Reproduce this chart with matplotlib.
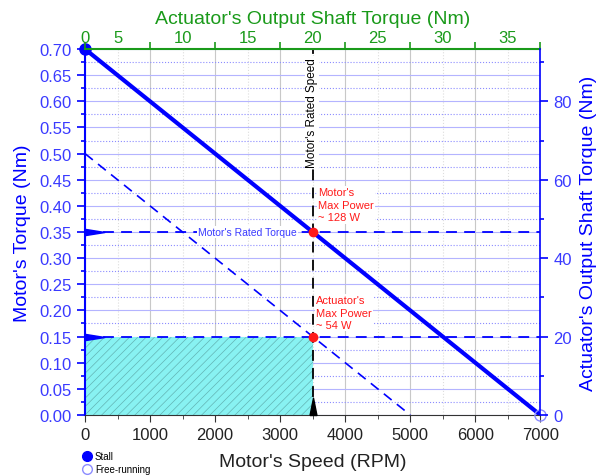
import matplotlib
matplotlib.use("Agg")
import matplotlib.pyplot as plt
from matplotlib.path import Path
from matplotlib.ticker import MultipleLocator
from matplotlib.lines import Line2D

# =====================================================
# DATA
# =====================================================

motor_speed = [0, 7000]          # RPM
motor_torque = [0.70, 0.00]      # Nm

actuator_speed = [0, 5000]
actuator_torque = [0.50, 0.00]

rated_speed = 3500
rated_torque = 0.35
actuator_rated_torque = 0.15

top_tick_pos = [0, 500, 1500, 2500, 3500, 4500, 5500, 6500]
top_tick_labels = ['0', '5', '10', '15', '20', '25', '30', '35']

right_ratio = 0.0075   # motor Nm per actuator Nm

BLUE = '#0000ff'
TXT_BLUE = '#3a3aff'
GREEN = '#1a9a1a'
RED = '#ff1a1a'

plt.rcParams['font.family'] = ['Liberation Sans', 'DejaVu Sans']
plt.rcParams['hatch.linewidth'] = 0.5

fig = plt.figure(figsize=(6.03, 4.77), dpi=100)
ax = fig.add_axes([0.141, 0.128, 0.755, 0.767])

# =====================================================
# GRID
# =====================================================

ax.set_xlim(0, 7000)
ax.set_ylim(0, 0.70)
ax.xaxis.set_major_locator(MultipleLocator(1000))
ax.xaxis.set_minor_locator(MultipleLocator(500))
ax.yaxis.set_major_locator(MultipleLocator(0.05))
ax.yaxis.set_minor_locator(MultipleLocator(0.025))

ax.grid(axis='x', which='major', color='#c8c8c8', lw=0.8)
ax.grid(axis='x', which='minor', color='#dddddd', lw=0.8, ls=':')
ax.grid(axis='y', which='major', color='#b4b4ff', lw=0.8)
ax.grid(axis='y', which='minor', color='#8c8cff', lw=0.8, ls=':')
ax.set_axisbelow(True)

# =====================================================
# FILL REGION
# =====================================================

ax.fill_between([0, rated_speed], 0, actuator_rated_torque,
                facecolor='#88f2f2', edgecolor='#62b4b4',
                hatch='////', lw=0, zorder=1.5)

# =====================================================
# LINES
# =====================================================

ax.plot(motor_speed, motor_torque, color=BLUE, lw=3, zorder=4)
ax.plot(actuator_speed, actuator_torque, color=BLUE, lw=1.2,
        ls=(0, (6, 4)), zorder=3)

ax.axhline(rated_torque, color=BLUE, lw=1.3, ls=(0, (6, 4)), zorder=3)
ax.axhline(actuator_rated_torque, color=BLUE, lw=1.3, ls=(0, (6, 4)), zorder=3)
ax.axvline(rated_speed, color='black', lw=1.3, ls=(0, (6, 4)), zorder=3)

# stall / free-running markers
ax.plot([motor_speed[0]], [motor_torque[0]], 'o', color=BLUE, ms=8,
        clip_on=False, zorder=6)
ax.plot([motor_speed[1]], [motor_torque[1]], 'o', mfc='none',
        mec='#8c8cff', ms=8, clip_on=False, zorder=6)

# max power points
ax.plot([rated_speed, rated_speed], [rated_torque, actuator_rated_torque],
        'o', color=RED, ms=6, zorder=7)

# axis pointer triangles
right_tri = Path([(0, -0.4), (2.5, 0), (0, 0.4), (0, -0.4)])
up_tri = Path([(-0.2, 0), (0, 1), (0.2, 0), (-0.2, 0)])
ax.plot([0, 0], [rated_torque, actuator_rated_torque], ls='none',
        marker=right_tri, ms=28, color=BLUE, clip_on=False, zorder=6)
ax.plot([rated_speed], [0], ls='none', marker=up_tri, ms=25,
        color='black', clip_on=False, zorder=6)

# =====================================================
# TEXT ANNOTATIONS
# =====================================================

ax.text(2500, rated_torque, "Motor's Rated Torque", color=TXT_BLUE,
        fontsize=7.5, ha='center', va='center', zorder=5,
        bbox=dict(facecolor='white', edgecolor='none', pad=1))
ax.text(rated_speed - 10, 0.58, "Motor's Rated Speed", color='black',
        fontsize=8.5, rotation=90, ha='center', va='center', zorder=5,
        bbox=dict(facecolor='white', edgecolor='none', pad=1))
ax.text(3580, 0.402, "Motor's\nMax Power\n~ 128 W", color=RED,
        fontsize=8, ha='left', va='center', linespacing=1.3, zorder=5,
        bbox=dict(facecolor='white', edgecolor='none', pad=1))
ax.text(3550, 0.196, "Actuator's\nMax Power\n~ 54 W", color=RED,
        fontsize=8, ha='left', va='center', linespacing=1.3, zorder=5,
        bbox=dict(facecolor='white', edgecolor='none', pad=1))

# =====================================================
# AXES STYLING
# =====================================================

ax.spines['left'].set_color(BLUE)
ax.spines['left'].set_linewidth(1.5)
ax.spines['bottom'].set_color('#333333')
ax.spines['top'].set_visible(False)
ax.spines['right'].set_visible(False)

ax.tick_params(axis='y', which='both', colors=BLUE, labelcolor=TXT_BLUE,
               labelsize=12, direction='out')
ax.tick_params(axis='y', which='major', length=6, width=1.2)
ax.tick_params(axis='y', which='minor', length=3, width=1.2)
ax.tick_params(axis='x', which='both', colors='#333333', labelcolor='#222222',
               labelsize=12, direction='out')
ax.tick_params(axis='x', which='major', length=5)
ax.tick_params(axis='x', which='minor', length=3)
ax.yaxis.set_major_formatter(plt.FormatStrFormatter('%.2f'))

ax.set_xlabel("Motor's Speed (RPM)", fontsize=14, color='#222222',
              labelpad=8)
ax.set_ylabel("Motor's Torque (Nm)", fontsize=14, color=BLUE, labelpad=6)

# top axis
ax_top = ax.twiny()
ax_top.set_xlim(ax.get_xlim())
ax_top.xaxis.remove_overlapping_locs = False
ax_top.set_xticks(range(0, 7001, 1000))
ax_top.set_xticklabels([])
ax_top.set_xticks(top_tick_pos, minor=True)
ax_top.set_xticklabels(top_tick_labels, minor=True)
ax_top.tick_params(axis='x', which='major', colors=GREEN, length=5, width=1.2)
ax_top.tick_params(axis='x', which='minor', colors=GREEN, length=0,
                   labelsize=12, pad=3)
ax_top.spines['top'].set_color(GREEN)
ax_top.spines['top'].set_linewidth(1.5)
ax_top.spines['right'].set_visible(False)
ax_top.spines['left'].set_visible(False)
ax_top.spines['bottom'].set_visible(False)
ax_top.set_xlabel("Actuator's Output Shaft Torque (Nm)", fontsize=14,
                  color=GREEN, labelpad=5)

# right axis
ax_right = ax.twinx()
ax_right.set_ylim(0, 0.70 / right_ratio)
ax_right.yaxis.set_major_locator(MultipleLocator(20))
ax_right.yaxis.set_minor_locator(MultipleLocator(10))
ax_right.tick_params(axis='y', which='both', colors=BLUE, labelcolor=TXT_BLUE,
                     labelsize=12, direction='out')
ax_right.tick_params(axis='y', which='major', length=6, width=1.2)
ax_right.tick_params(axis='y', which='minor', length=3, width=1.2)
ax_right.spines['right'].set_color(BLUE)
ax_right.spines['right'].set_linewidth(1.2)
ax_right.spines['top'].set_visible(False)
ax_right.spines['left'].set_visible(False)
ax_right.spines['bottom'].set_visible(False)
ax_right.set_ylabel("Actuator's Output Shaft Torque (Nm)", fontsize=14,
                    color=BLUE, labelpad=6)

# =====================================================
# LEGEND
# =====================================================

handles = [
    Line2D([], [], ls='none', marker='o', color=BLUE, ms=7),
    Line2D([], [], ls='none', marker='o', mfc='none', mec='#8c8cff', ms=7),
]
fig.legend(handles, ['Stall', 'Free-running'], loc='upper left',
           bbox_to_anchor=(0.13, 0.06), frameon=False, fontsize=7,
           handletextpad=0.3, labelspacing=0.3, borderaxespad=0,
           handlelength=1.0)

fig.savefig("out.png", dpi=100)
